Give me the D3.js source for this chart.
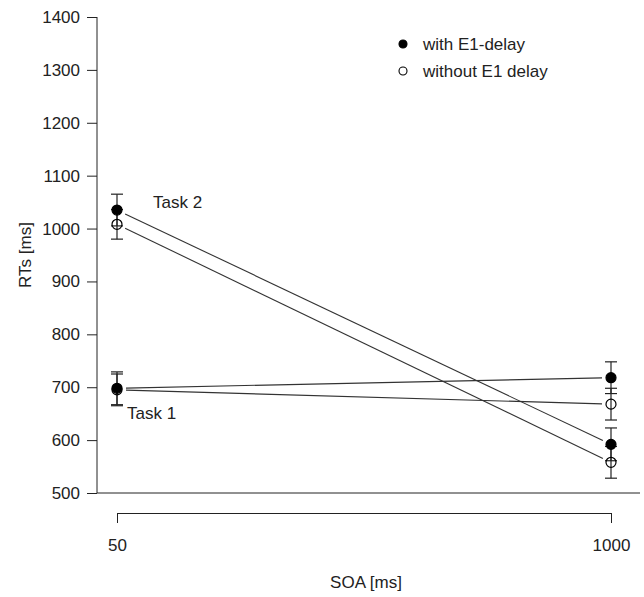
<!DOCTYPE html>
<html>
<head>
<meta charset="utf-8">
<script src="https://cdn.jsdelivr.net/npm/d3@7"></script>
<style>
  body { margin: 0; background: #fff; }
  text { font-family: "Liberation Sans", Arial, sans-serif; fill: #222; }
</style>
</head>
<body>
<div id="chart"></div>
<script>
"use strict";
(function() {

const WIDTH = 644
const HEIGHT = 597

const soa = [50, 1000]
const yTicks = [500, 600, 700, 800, 900, 1000, 1100, 1200, 1300, 1400]
const conditions = ["with E1-delay", "without E1 delay"]

// mean RTs and error bar half-widths, per SOA
const task1With = [698, 718]
const task1WithErr = [31, 30]
const task1Without = [695, 668]
const task1WithoutErr = [30, 30]
const task2With = [1035, 592]
const task2WithErr = [30, 31]
const task2Without = [1008, 558]
const task2WithoutErr = [28, 30]

const INK = "#222"
const GAP = 9

const series = [
    { values: task1With, err: task1WithErr, filled: true },
    { values: task1Without, err: task1WithoutErr, filled: false },
    { values: task2With, err: task2WithErr, filled: true },
    { values: task2Without, err: task2WithoutErr, filled: false }
]

const svg = d3.select("#chart").append("svg")
    .attr("width", WIDTH)
    .attr("height", HEIGHT)

const x = d3.scalePoint().domain(soa).range([117, 611])
const y = d3.scaleLinear().domain([500, 1400]).range([493, 17])

// y axis
const yAxis = svg.append("g")
    .attr("transform", "translate(97,0)")
    .call(d3.axisLeft(y).tickValues(yTicks).tickFormat(d3.format("d"))
        .tickSize(10).tickSizeOuter(0).tickPadding(7))
yAxis.selectAll("text").style("font-size", "17px")
yAxis.selectAll("line, path").attr("stroke", INK)
yAxis.select(".domain").remove()
svg.append("line")
    .attr("x1", 97).attr("x2", 97)
    .attr("y1", y(1400)).attr("y2", y(500))
    .attr("stroke", INK)

// bottom frame line
svg.append("line")
    .attr("x1", 97).attr("x2", 640)
    .attr("y1", y(500)).attr("y2", y(500))
    .attr("stroke", INK)

// x axis (detached)
const xAxis = svg.append("g")
    .attr("transform", "translate(0,513)")
    .call(d3.axisBottom(x).tickSize(10).tickSizeOuter(10).tickPadding(16))
xAxis.selectAll("text").style("font-size", "17px")
xAxis.selectAll("line, path").attr("stroke", INK)

svg.append("text")
    .attr("x", 366).attr("y", 588)
    .attr("text-anchor", "middle")
    .style("font-size", "17px")
    .text("SOA [ms]")

svg.append("text")
    .attr("transform", "translate(31,255) rotate(-90)")
    .attr("text-anchor", "middle")
    .style("font-size", "17px")
    .text("RTs [ms]")

// connecting lines, with gaps at the points
series.forEach(function(s) {
    let x0 = x(soa[0]), y0 = y(s.values[0])
    let x1 = x(soa[1]), y1 = y(s.values[1])
    let len = Math.hypot(x1 - x0, y1 - y0)
    let ux = (x1 - x0) / len, uy = (y1 - y0) / len
    svg.append("line")
        .attr("x1", x0 + ux * GAP).attr("y1", y0 + uy * GAP)
        .attr("x2", x1 - ux * GAP).attr("y2", y1 - uy * GAP)
        .attr("stroke", "#333")
        .attr("stroke-width", 1.1)
})

// error bars
series.forEach(function(s) {
    soa.forEach(function(d, i) {
        let cx = x(d)
        let lo = y(s.values[i] - s.err[i])
        let hi = y(s.values[i] + s.err[i])
        let g = svg.append("g").attr("stroke", INK).attr("stroke-width", 1.2)
        g.append("line").attr("x1", cx).attr("x2", cx).attr("y1", lo).attr("y2", hi)
        g.append("line").attr("x1", cx - 6).attr("x2", cx + 6).attr("y1", lo).attr("y2", lo)
        g.append("line").attr("x1", cx - 6).attr("x2", cx + 6).attr("y1", hi).attr("y2", hi)
    })
})

// points
series.forEach(function(s) {
    svg.selectAll(null)
        .data(s.values)
        .enter().append("circle")
        .attr("cx", (d, i) => x(soa[i]))
        .attr("cy", d => y(d))
        .attr("r", 5)
        .attr("fill", s.filled ? "#000" : "none")
        .attr("stroke", "#000")
        .attr("stroke-width", 1.2)
})

svg.append("text").attr("x", 153).attr("y", 208).style("font-size", "17px").text("Task 2")
svg.append("text").attr("x", 127).attr("y", 419).style("font-size", "17px").text("Task 1")

// legend
const legend = svg.append("g")
legend.selectAll("circle")
    .data(conditions)
    .enter().append("circle")
    .attr("cx", 403)
    .attr("cy", (d, i) => 44 + i * 27)
    .attr("r", 4)
    .attr("fill", (d, i) => i === 0 ? "#000" : "#fff")
    .attr("stroke", "#000")
    .attr("stroke-width", 1.1)
legend.selectAll("text")
    .data(conditions)
    .enter().append("text")
    .attr("x", 423)
    .attr("y", (d, i) => 50 + i * 27)
    .style("font-size", "17px")
    .text(d => d)

})();
</script>
</body>
</html>
